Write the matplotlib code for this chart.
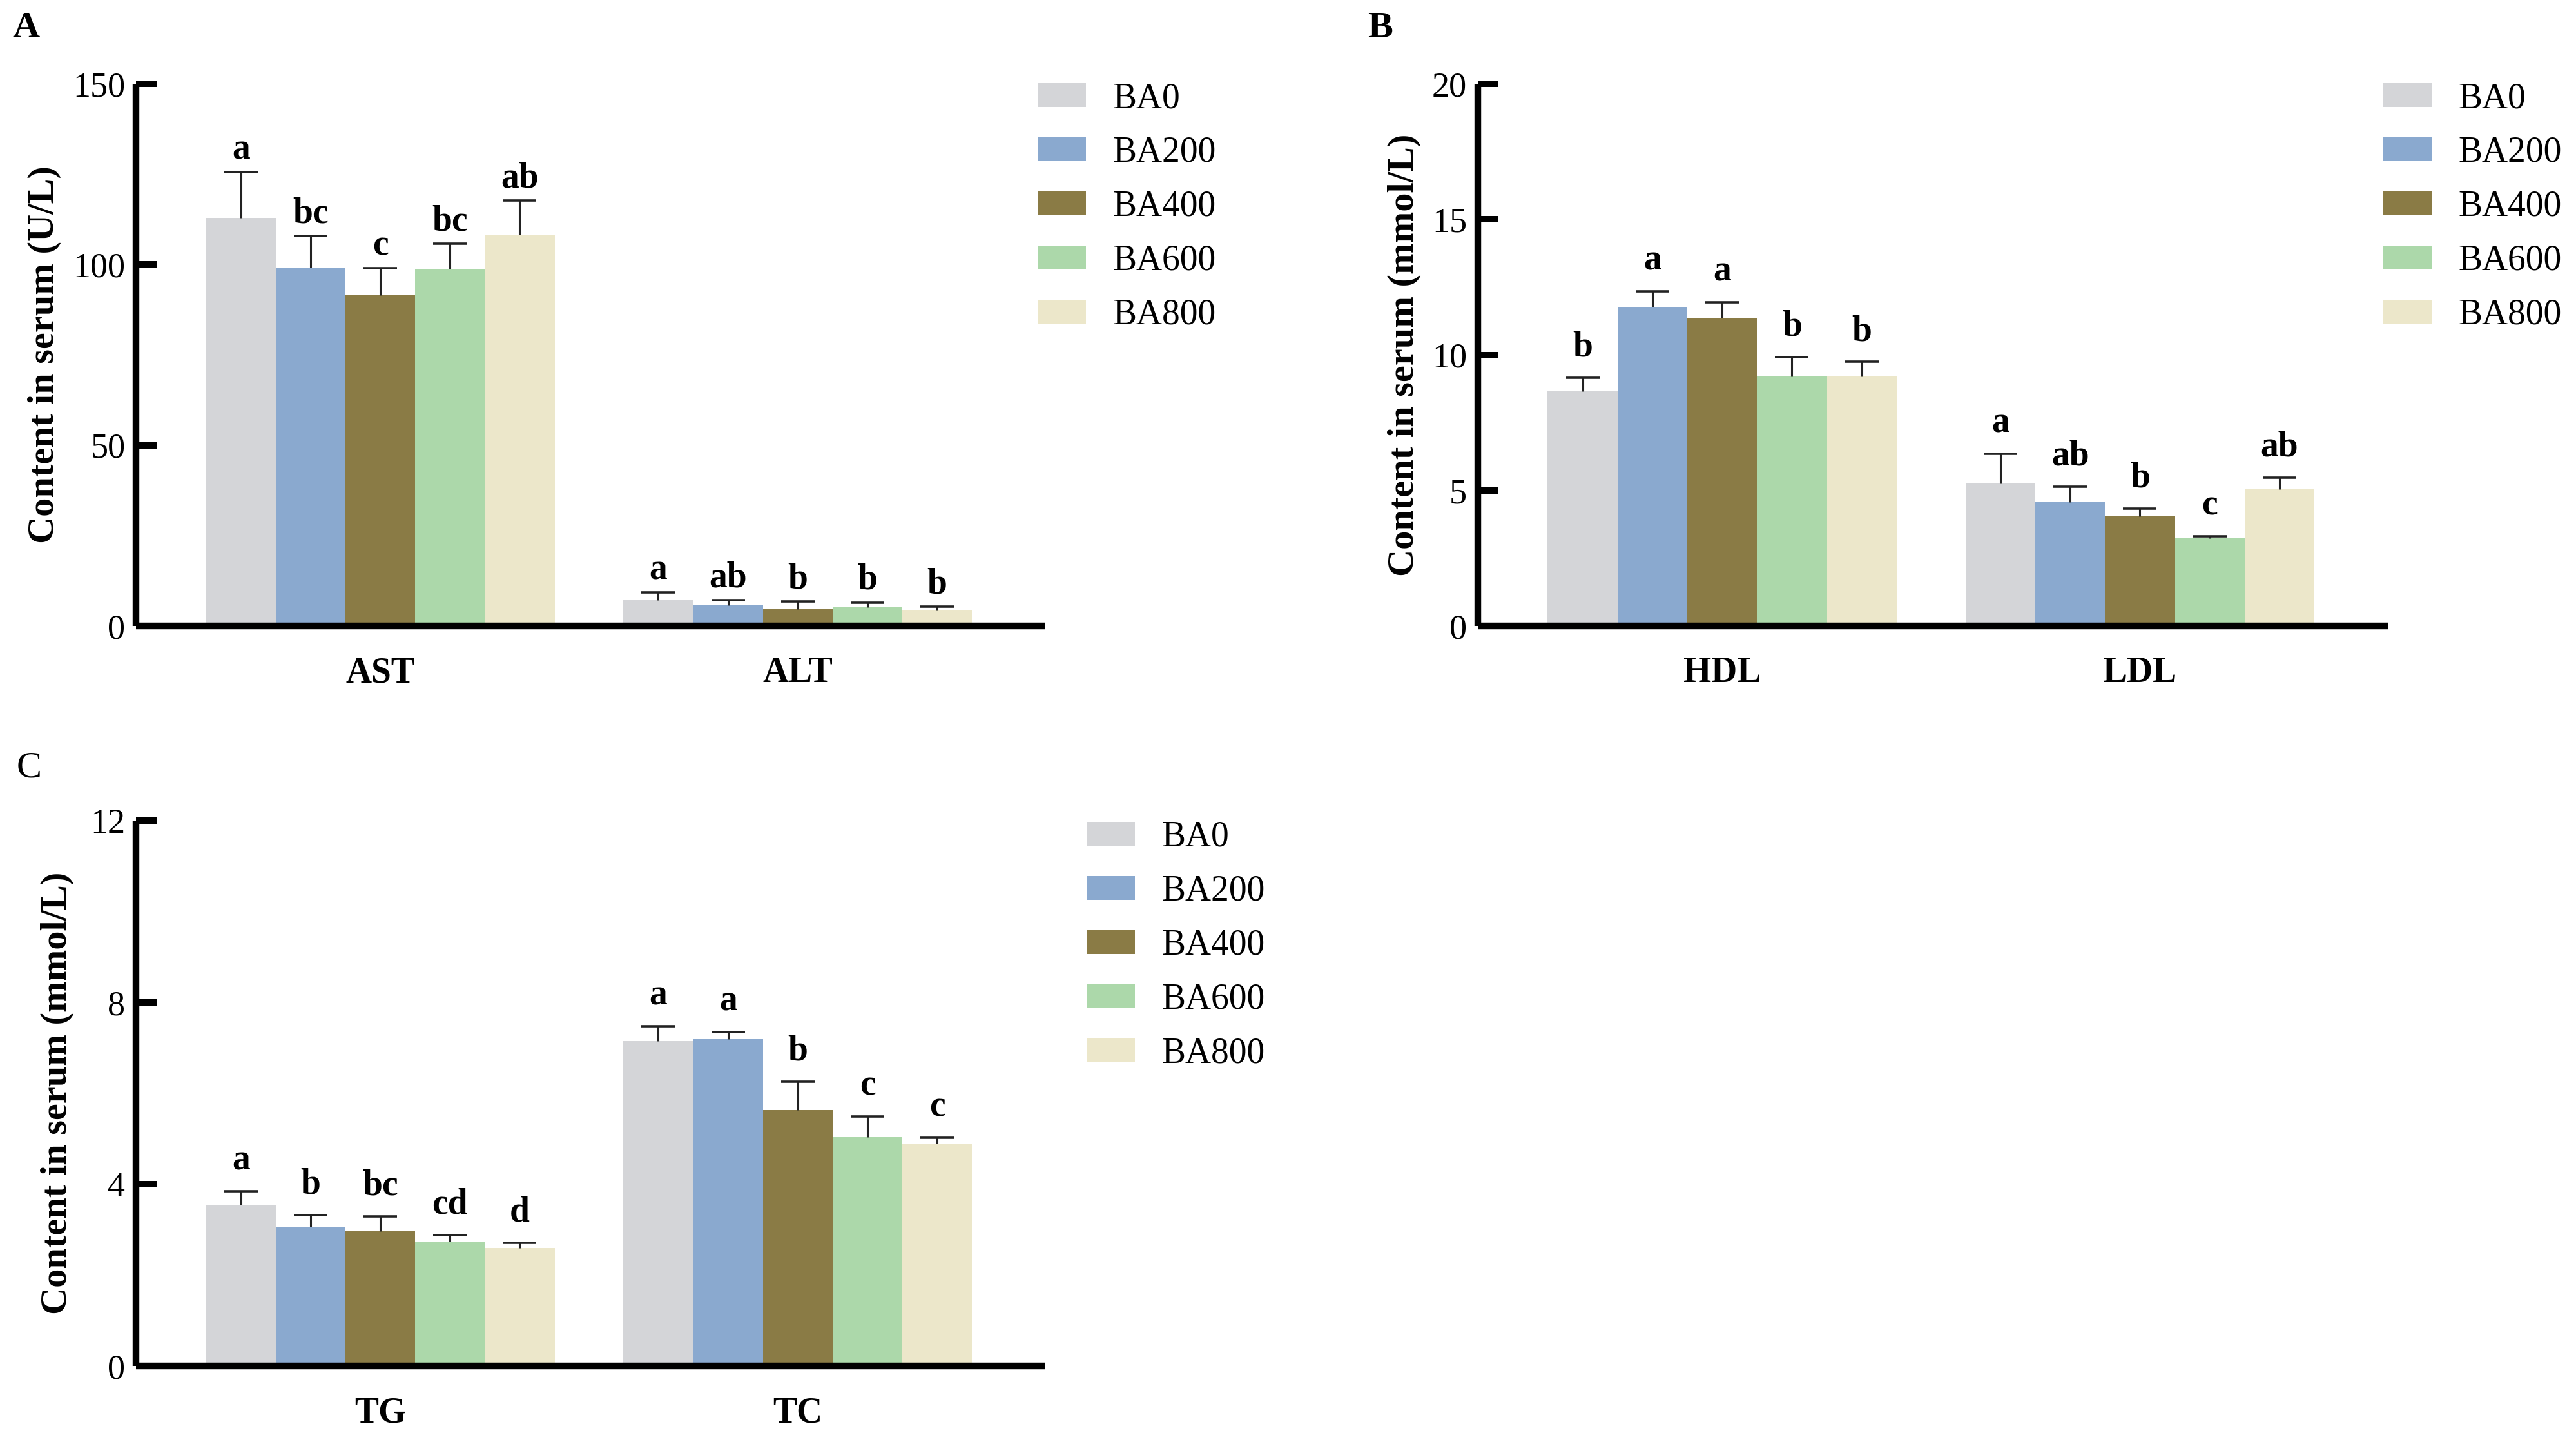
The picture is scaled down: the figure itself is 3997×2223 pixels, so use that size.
import matplotlib
matplotlib.use("Agg")
import matplotlib.pyplot as plt
import numpy as np
from matplotlib.patches import Patch

plt.rcParams['font.family'] = ['Liberation Serif', 'DejaVu Serif']

groups = ['BA0', 'BA200', 'BA400', 'BA600', 'BA800']
colors = ['#d4d5d8', '#8aa9cf', '#8a7b45', '#acd8aa', '#ece7ca']

# panel A
a_cats = ['AST', 'ALT']
a_mean = [[112.9, 99.2, 91.5, 98.8, 108.3],
          [7.2, 5.7, 4.6, 5.2, 4.3]]
a_sd = [[12.7, 8.7, 7.5, 6.9, 9.4],
        [2.0, 1.4, 2.2, 1.3, 1.0]]
a_let = [['a', 'bc', 'c', 'bc', 'ab'],
         ['a', 'ab', 'b', 'b', 'b']]

# panel B
b_cats = ['HDL', 'LDL']
b_mean = [[8.65, 11.78, 11.36, 9.2, 9.2],
          [5.26, 4.57, 4.05, 3.23, 5.04]]
b_sd = [[0.5, 0.57, 0.59, 0.72, 0.54],
        [1.1, 0.57, 0.28, 0.07, 0.43]]
b_let = [['b', 'a', 'a', 'b', 'b'],
         ['a', 'ab', 'b', 'c', 'ab']]

# panel C
c_cats = ['TG', 'TC']
c_mean = [[3.54, 3.07, 2.97, 2.73, 2.59],
          [7.15, 7.19, 5.63, 5.03, 4.89]]
c_sd = [[0.31, 0.25, 0.32, 0.15, 0.12],
        [0.33, 0.16, 0.63, 0.46, 0.13]]
c_let = [['a', 'b', 'bc', 'cd', 'd'],
         ['a', 'a', 'b', 'c', 'c']]

W, H = 3998, 2223
fig = plt.figure(figsize=(W / 100, H / 100), dpi=100)


def panel(rect, cats, means, sds, lets, ymax, yticks, ylabel, lab_x, let_off):
    ax = fig.add_axes(rect)
    bw = 0.167
    offs = (np.arange(5) - 2) * bw
    for gi in range(5):
        x = np.arange(len(cats)) + offs[gi]
        m = np.array([means[c][gi] for c in range(len(cats))])
        s = np.array([sds[c][gi] for c in range(len(cats))])
        ax.bar(x, m, width=bw, color=colors[gi], edgecolor='none', zorder=2)
        ax.vlines(x, m, m + s, color='#222222', lw=2.2, zorder=3)
        ax.plot(x, m + s, ls='none', marker='_', ms=38, mew=2.6,
                color='#222222', zorder=3)
        for c in range(len(cats)):
            ax.annotate(lets[c][gi], (x[c], m[c] + s[c]), xytext=(0, let_off),
                        textcoords='offset points', ha='center', va='baseline',
                        fontsize=40, fontweight='bold')
    ax.set_xlim(-0.585, 1.593)
    ax.set_ylim(0, ymax)
    ax.set_yticks(yticks)
    ax.set_xticks(range(len(cats)))
    ax.set_xticklabels(cats, fontsize=40, fontweight='bold')
    ax.tick_params(axis='x', length=0, pad=34)
    ax.tick_params(axis='y', direction='in', length=23, width=7.2,
                   labelsize=39, pad=12)
    for sp in ['top', 'right']:
        ax.spines[sp].set_visible(False)
    for sp in ['left', 'bottom']:
        ax.spines[sp].set_linewidth(7.5)
        ax.spines[sp].set_capstyle('butt')
    ax.set_ylabel(ylabel, fontsize=42, fontweight='bold')
    ax.yaxis.set_label_coords(lab_x, 0.5)
    return ax


def legend(x, y):
    handles = [Patch(facecolor=c, edgecolor='none') for c in colors]
    fig.legend(handles, groups, loc='upper left', bbox_to_anchor=(x, y),
               bbox_transform=fig.transFigure, frameon=False, fontsize=40,
               handlelength=1.35, handleheight=0.65, handletextpad=0.75,
               labelspacing=0.575, borderpad=0, borderaxespad=0)


axA = panel([0.0528, 0.5632, 0.3529, 0.3783], a_cats, a_mean, a_sd, a_let,
            150, [0, 50, 100, 150], 'Content in serum (U/L)', -0.082, 15)
axB = panel([0.5735, 0.5632, 0.3532, 0.3783], b_cats, b_mean, b_sd, b_let,
            20, [0, 5, 10, 15, 20], 'Content in serum (mmol/L)', -0.062, 24)
axC = panel([0.0528, 0.0468, 0.3529, 0.3806], c_cats, c_mean, c_sd, c_let,
            12, [0, 4, 8, 12], 'Content in serum (mmol/L)', -0.068, 24)

legend(1610 / W, 1 - 127 / H)
legend(3698 / W, 1 - 127 / H)
legend(1686 / W, 1 - 1273 / H)

fig.text(19 / W, 1 - 18 / H, 'A', fontsize=42, fontweight='bold', va='top')
fig.text(2122 / W, 1 - 18 / H, 'B', fontsize=42, fontweight='bold', va='top')
fig.text(26 / W, 1 - 1165 / H, 'C', fontsize=42, va='top')

fig.savefig('out.png', dpi=100)
